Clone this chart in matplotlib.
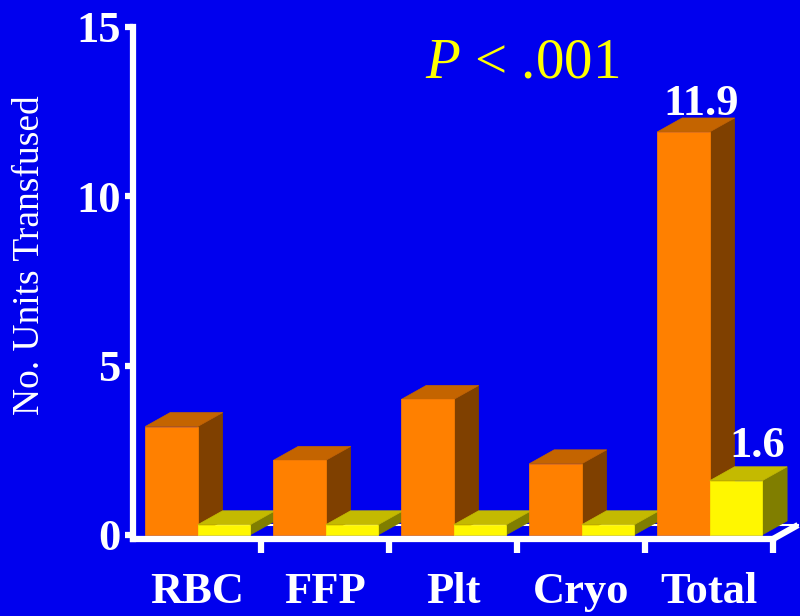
import matplotlib
matplotlib.use("Agg")
import matplotlib.pyplot as plt
from matplotlib.patches import Polygon

# data
categories = ["RBC", "FFP", "Plt", "Cryo", "Total"]
group_a = [3.2, 2.2, 4.0, 2.1, 11.9]   # orange
group_b = [0.3, 0.3, 0.3, 0.3, 1.6]    # yellow
shown_labels = {4: ("11.9", "1.6")}
y_ticks = [0, 5, 10, 15]

BG = "#0000EE"
ORANGE = ("#FF8000", "#C46400", "#7F4000")   # front, top, side
YELLOW = ("#FFF700", "#C4BA00", "#807E00")

plt.rcParams["font.family"] = ["Liberation Serif", "DejaVu Serif"]
plt.rcParams["mathtext.fontset"] = "custom"
plt.rcParams["mathtext.rm"] = "Liberation Serif"
plt.rcParams["mathtext.it"] = "Liberation Serif:italic"

fig = plt.figure(figsize=(8, 6.16), dpi=100, facecolor=BG)
ax = fig.add_axes([133 / 800, 77 / 616, 640 / 800, 512 / 616])
ax.set_facecolor(BG)
ax.set_xlim(0, 5)
ax.set_ylim(-0.12, 15)

# 3d depth in data units
dx = 25 / 128
dy = 14 / 33.86
w = 0.41


def bar3d(x0, h, colors):
    front, top, side = colors
    x1 = x0 + w
    ax.add_patch(Polygon([(x1, 0), (x1 + dx, dy), (x1 + dx, h + dy), (x1, h)],
                         closed=True, fc=side, ec=side, lw=0.5, zorder=3, clip_on=False))
    ax.add_patch(Polygon([(x0, h), (x0 + dx, h + dy), (x1 + dx, h + dy), (x1, h)],
                         closed=True, fc=top, ec=top, lw=0.5, zorder=3, clip_on=False))
    ax.add_patch(Polygon([(x0, 0), (x0, h), (x1, h), (x1, 0)],
                         closed=True, fc=front, ec=front, lw=0.5, zorder=3, clip_on=False))


# floor back edge and right floor corner
ax.plot([dx, 5 + dx], [-0.12 + dy, -0.12 + dy], color="white", lw=1.5,
        zorder=2, clip_on=False)
ax.plot([5, 5 + dx], [-0.12, -0.12 + dy], color="white", lw=4.5,
        zorder=4, clip_on=False, solid_capstyle="butt")

for i in range(len(categories)):
    c = i + 0.5
    bar3d(c - w + 0.005, group_a[i], ORANGE)
    bar3d(c + 0.005, group_b[i], YELLOW)
    if i in shown_labels:
        la, lb = shown_labels[i]
        ax.text(c - w + 0.005 + w / 2 + dx * 0.7, group_a[i] + dy + 0.09, la,
                color="white", fontsize=32, fontweight="bold",
                ha="center", va="baseline", zorder=5)
        ax.text(c + 0.005 + w / 2 + dx * 0.85, group_b[i] + dy + 0.29, lb,
                color="white", fontsize=32, fontweight="bold",
                ha="center", va="baseline", zorder=5)

ax.text(3.04, 13.5, r"$P$ < .001", color="#FFFF00", fontsize=41,
        ha="center", va="baseline", zorder=5)

# axes styling
for s in ["top", "right"]:
    ax.spines[s].set_visible(False)
for s in ["left", "bottom"]:
    ax.spines[s].set_color("white")
    ax.spines[s].set_linewidth(4.5)
    ax.spines[s].set_zorder(4)

ax.set_yticks(y_ticks)
ax.set_yticklabels([str(v) for v in y_ticks])
ax.tick_params(axis="y", colors="white", direction="out", length=6, width=4.5,
               pad=3, labelsize=32)
for t in ax.get_yticklabels():
    t.set_fontweight("bold")

ax.set_xticks([1, 2, 3, 4, 5])
ax.set_xticklabels([])
ax.tick_params(axis="x", which="major", colors="white", direction="out",
               length=10, width=4.5)
ax.set_xticks([0.5, 1.5, 2.5, 3.5, 4.5], minor=True)
ax.set_xticklabels(categories, minor=True)
ax.tick_params(axis="x", which="minor", colors="white", length=0, pad=24,
               labelsize=32)
for t in ax.get_xticklabels(minor=True):
    t.set_fontweight("bold")

fig.text(30 / 800, 1 - 255 / 616, "No. Units Transfused", color="white",
         fontsize=27, rotation=90, ha="center", va="center")

fig.savefig("out.png", dpi=100, facecolor=BG)
